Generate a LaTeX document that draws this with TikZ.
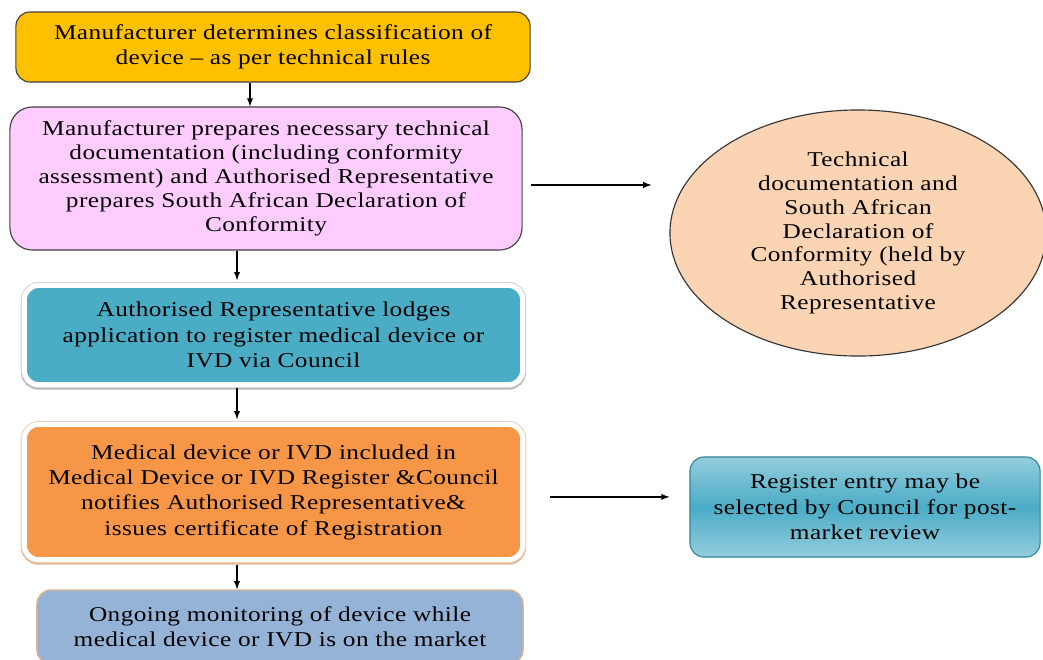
\documentclass[tikz,border=0pt]{standalone}
\usepackage{fontspec}
\setmainfont{Liberation Serif}[FakeStretch=1.2,LetterSpace=2]
\usetikzlibrary{shapes.geometric,arrows,positioning}
\definecolor{gold}{HTML}{FFC000}
\definecolor{pinkfill}{HTML}{FFCCFF}
\definecolor{tealfill}{HTML}{4BACC6}
\definecolor{orangefill}{HTML}{F79646}
\definecolor{bluefill}{HTML}{95B3D7}
\definecolor{peach}{HTML}{FBD4B4}
\definecolor{lightteal}{HTML}{93CDDD}
\definecolor{darkteal}{HTML}{31849B}
\definecolor{tanline}{HTML}{E0B48E}
\definecolor{glowgray}{HTML}{B8B8B8}
\tikzset{
  box/.style={rectangle, rounded corners=10pt, draw=black!75, line width=0.8pt,
    align=center, inner sep=0pt, font=\fontsize{15}{18}\selectfont},
  glow/.style={box, draw=white, line width=3.5pt,
    preaction={draw=#1, line width=5pt, transform canvas={yshift=-1.2pt}},
    preaction={draw=#1!60, line width=5pt}},
  flow/.style={->, >=latex, line width=1pt},
}
\begin{document}
\begin{tikzpicture}[x=0.025cm,y=-0.025cm]
	\path[use as bounding box, fill=white] (0,0) rectangle (1043,659);
	% main column
	\node[box, fill=gold, minimum width=12.85cm, minimum height=1.75cm] (man) at (273,47)
	  {Manufacturer determines classification of\\device -- as per technical rules};
	\node[box, fill=pinkfill, rounded corners=16pt, minimum width=12.8cm, minimum height=3.575cm,
	  font=\fontsize{15}{17}\selectfont] (doc) at (266,178.5)
	  {Manufacturer prepares necessary technical\\documentation (including conformity\\assessment) and Authorised Representative\\prepares South African Declaration of\\Conformity};
	\node[glow=glowgray, fill=tealfill, minimum width=12.45cm, minimum height=2.475cm] (lodge) at (273.5,335)
	  {Authorised Representative lodges\\application to register medical device or\\IVD via Council};
	\node[glow=tanline, fill=orangefill, minimum width=12.45cm, minimum height=3.375cm] (reg) at (273.5,492)
	  {Medical device or IVD included in\\Medical Device or IVD Register \&Council\\notifies Authorised Representative\&\\issues certificate of Registration};
	\node[box, fill=bluefill, draw=tanline, line width=1pt, minimum width=12.15cm, minimum height=1.85cm] (mon) at (280,627)
	  {Ongoing monitoring of device while\\medical device or IVD is on the market};
	% side nodes
	\node[ellipse, draw=black!80, fill=peach, line width=0.8pt, minimum width=9.4cm, minimum height=6.15cm,
	  inner sep=0pt, align=center, font=\fontsize{15}{17}\selectfont] (held) at (858,233)
	  {Technical\\documentation and\\South African\\Declaration of\\Conformity (held by\\Authorised\\Representative};
	\node[box, draw=darkteal, top color=lightteal, bottom color=lightteal, middle color=tealfill,
	  minimum width=8.75cm, minimum height=2.5cm] (rev) at (865,507)
	  {Register entry may be\\selected by Council for post-\\market review};
	% connectors
	\coordinate (lane1) at (250,0);
	\coordinate (lane) at (237,0);
	\draw[flow] (man.south -| lane1) -- (doc.north -| lane1);
	\draw[flow, shorten >=2pt] (doc.south -| lane) -- (lodge.north -| lane);
	\draw[flow, shorten <=1pt, shorten >=2pt] (lodge.south -| lane) -- (reg.north -| lane);
	\draw[flow, shorten <=2pt] (reg.south -| lane) -- (mon.north -| lane);
	\draw[flow, shorten <=5.7pt, shorten >=12.8pt] ([yshift=-4.6pt]doc.east) -- ([yshift=-4.6pt]doc.east -| held.west);
	\draw[flow, shorten <=18pt, shorten >=14.2pt] ([yshift=-3.5pt]reg.east) -- ([yshift=-3.5pt]reg.east -| rev.west);
\end{tikzpicture}
\end{document}
